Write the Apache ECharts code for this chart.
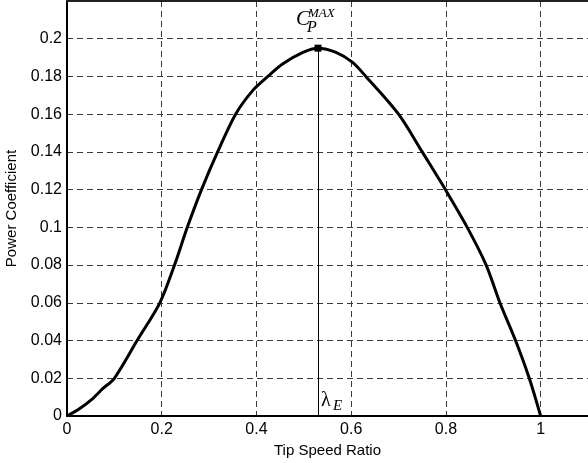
<!DOCTYPE html>
<html><head><meta charset="utf-8">
<script src="https://cdn.jsdelivr.net/npm/echarts@6/dist/echarts.min.js"></script>
<style>html,body{margin:0;padding:0;background:#fff}#c{width:588px;height:463px}</style>
</head><body><div id="c"></div>
<script>
const tsr = [0,0.027,0.055,0.076,0.10,0.148,0.196,0.227,0.254,0.284,0.318,0.356,0.392,0.424,0.455,0.498,0.53,0.568,0.603,0.631,0.70,0.75,0.785,0.799,0.845,0.885,0.914,0.947,0.976,1.0];
const cp  = [0,0.004,0.0094,0.0146,0.02,0.04,0.06,0.08,0.10,0.12,0.14,0.16,0.1725,0.18,0.1866,0.1928,0.195,0.1928,0.1875,0.18,0.16,0.14,0.1258,0.12,0.10,0.08,0.06,0.04,0.02,0];
const peak = [0.53, 0.195];
const xTitle = 'Tip Speed Ratio';
const yTitle = 'Power Coefficient';

const chart = echarts.init(document.getElementById('c'), null, {renderer:'canvas'});
const font = 'Liberation Sans';
const gridLine = {show:true, lineStyle:{color:'#3a3a3a', type:[6,4], width:1}};
const fmt = v => String(+v.toFixed(2));
chart.setOption({
  animation:false,
  grid:{left:67, top:1, right:0, bottom:47, outerBoundsMode:'none', containLabel:false},
  xAxis:[{type:'value', min:0, max:1.1, interval:0.2,
    name:xTitle, nameLocation:'middle', nameGap:25,
    nameTextStyle:{fontFamily:font, fontSize:15, color:'#000'},
    axisLine:{show:true, onZero:false, lineStyle:{color:'#000', width:2}},
    axisTick:{show:false},
    axisLabel:{fontFamily:font, fontSize:16, color:'#000', margin:6, showMaxLabel:false, formatter:fmt},
    splitLine:gridLine},
   {type:'value', position:'top', min:0, max:1.1, interval:0.2,
    axisLine:{show:true, onZero:false, lineStyle:{color:'#222', width:2}},
    axisTick:{show:false}, axisLabel:{show:false}, splitLine:{show:false}}],
  yAxis:{type:'value', min:0, max:0.22, interval:0.02,
    name:yTitle, nameLocation:'middle', nameGap:48,
    nameTextStyle:{fontFamily:font, fontSize:15, color:'#000'},
    axisLine:{show:true, onZero:false, lineStyle:{color:'#000', width:2}},
    axisTick:{show:false},
    axisLabel:{fontFamily:font, fontSize:16, color:'#000', margin:5, showMaxLabel:false, formatter:fmt},
    splitLine:gridLine},
  series:[{
    type:'line', data:tsr.map((x,i)=>[x,cp[i]]), showSymbol:false, smooth:0.3,
    lineStyle:{color:'#000', width:3}, z:5,
    markLine:{silent:true, symbol:'none', label:{show:false},
      lineStyle:{color:'#000', width:1, type:'solid'},
      data:[[{coord:[peak[0],0]},{coord:[peak[0],peak[1]]}]]},
    markPoint:{silent:true, symbol:'rect', symbolSize:7, itemStyle:{color:'#000'}, label:{show:false},
      data:[{coord:peak}]}
  }]
});

const pk = chart.convertToPixel({gridIndex:0}, peak);
const base = chart.convertToPixel({gridIndex:0}, [peak[0], 0]);
const tf = 'Liberation Serif';
chart.setOption({graphic:[
  {type:'text', x:pk[0]-22, y:pk[1]-29, style:{text:'C', font:'italic 21px "'+tf+'"', fill:'#000', verticalAlign:'middle', align:'left'}},
  {type:'text', x:pk[0]-10, y:pk[1]-35, style:{text:'MAX', font:'italic 13px "'+tf+'"', fill:'#000', verticalAlign:'middle', align:'left'}},
  {type:'text', x:pk[0]-11, y:pk[1]-20, style:{text:'P', font:'italic 16px "'+tf+'"', fill:'#000', verticalAlign:'middle', align:'left'}},
  {type:'text', x:base[0]+3, y:base[1]-15, style:{text:'λ', font:'20px "'+tf+'"', fill:'#000', verticalAlign:'middle', align:'left'}},
  {type:'text', x:base[0]+15, y:base[1]-10, style:{text:'E', font:'italic 15px "'+tf+'"', fill:'#000', verticalAlign:'middle', align:'left'}}
]});
</script></body></html>
